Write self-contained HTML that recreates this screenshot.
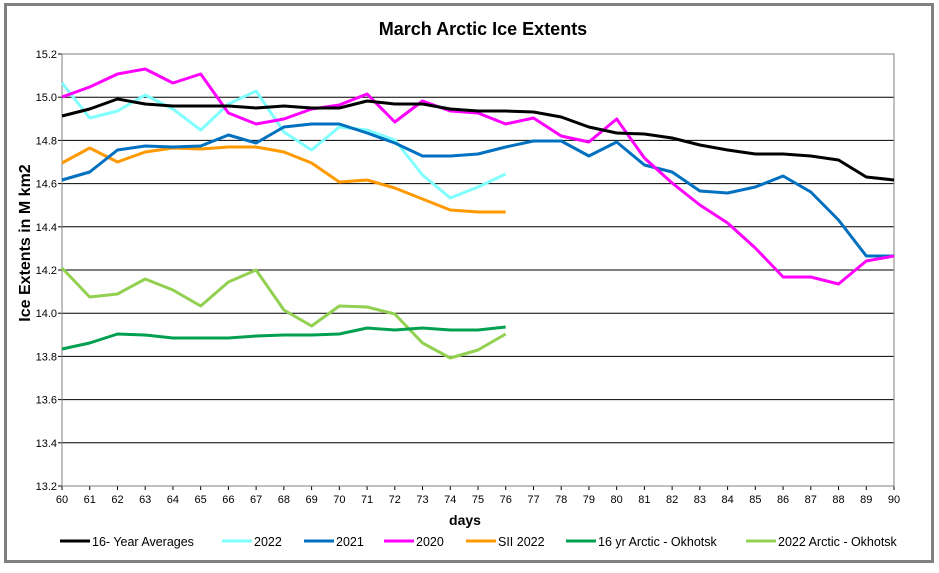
<!DOCTYPE html>
<html><head><meta charset="utf-8"><style>
html,body{margin:0;padding:0;background:#fff;}
svg{display:block;font-family:"Liberation Sans",Arial,sans-serif;}
</style></head><body>
<svg id="c" width="939" height="573" xmlns="http://www.w3.org/2000/svg">
<rect x="0" y="0" width="939" height="573" fill="#fff"/>
<rect x="5.5" y="4.5" width="927" height="557" fill="#fff" stroke="#808080" stroke-width="3"/>
<text x="483" y="35" font-size="18" font-weight="bold" text-anchor="middle">March Arctic Ice Extents</text>
<g id="grid"></g>
<rect x="62" y="54" width="832" height="432" fill="none" stroke="#808080" stroke-width="1"/>
<g id="series" fill="none" stroke-width="3" stroke-linejoin="round"></g>
<text x="465" y="525" font-size="14" font-weight="bold" text-anchor="middle">days</text>
<text transform="translate(30,243) rotate(-90)" font-size="16" font-weight="bold" text-anchor="middle">Ice Extents in M km2</text>
<g id="legend" font-size="12.5"></g>
</svg>
<script>
var ns="http://www.w3.org/2000/svg";
function el(t,a,p,txt){var e=document.createElementNS(ns,t);for(var k in a)e.setAttribute(k,a[k]);if(txt!=null)e.textContent=txt;p.appendChild(e);return e;}
var g=document.getElementById('grid');
var L=62,R=894,T=54,B=486;
for(var i=0;i<=10;i++){var v=15.2-0.2*i,y=T+i*43.2;
 if(i>0&&i<10)el('line',{x1:L,x2:R,y1:y,y2:y,stroke:'#000','stroke-width':1},g);
 el('line',{x1:L-4,x2:L,y1:y,y2:y,stroke:'#000'},g);
 el('text',{x:L-5,y:y+4,'font-size':11,'text-anchor':'end'},g,v.toFixed(1));}
el('line',{x1:L,x2:L,y1:T,y2:B,stroke:'#000'},g);
el('line',{x1:L,x2:R,y1:B,y2:B,stroke:'#000'},g);
var dx=(R-L)/30;
for(var d=0;d<=30;d++){var x=L+d*dx;el('line',{x1:x,x2:x,y1:B,y2:B+4,stroke:'#000'},g);
 el('text',{x:x,y:503,'font-size':11,'text-anchor':'middle'},g,String(60+d));}
var S=document.getElementById('series');
function line(c,ys){var p=ys.map(function(y,i){return (L+i*dx).toFixed(1)+','+y;}).join(' ');el('polyline',{points:p,stroke:c},S);}
line('#80ffff',[83,118,111,95,109,130,104,91,132,150,127,130,140,175,198,187,174]);
line('#ff9900',[163,148,162,152,148,149,147,147,152,163,182,180,188,199,210,212,212]);
line('#92d050',[268,297,294,279,290,306,282,270,310,326,306,307,314,343,358,350,334]);
line('#00a050',[349,343,334,335,338,338,338,336,335,335,334,328,330,328,330,330,327]);
line('#0070c0',[180,172,150,146,147,146,135,143,127,124,124,133,143,156,156,154,147,141,141,156,142,165,172,191,193,187,176,192,220,256,256]);
line('#ff00ff',[97,87,74,69,83,74,113,124,119,109,105,94,122,101,111,113,124,118,136,142,119,158,183,205,223,248,277,277,284,261,256]);
line('#000000',[116,109,99,104,106,106,106,108,106,108,108,101,104,104,109,111,111,112,117,127,133,134,138,145,150,154,154,156,160,177,180]);
var lg=document.getElementById('legend');
var items=[['#000000','16- Year Averages',60],['#80ffff','2022',222],['#0070c0','2021',304],['#ff00ff','2020',384],['#ff9900','SII 2022',466],['#00a050','16 yr Arctic - Okhotsk',566],['#92d050','2022 Arctic - Okhotsk',746]];
items.forEach(function(it){el('line',{x1:it[2],x2:it[2]+30,y1:541,y2:541,stroke:it[0],'stroke-width':3},lg);
 el('text',{x:it[2]+32,y:546},lg,it[1]);});
</script>
</body></html>
